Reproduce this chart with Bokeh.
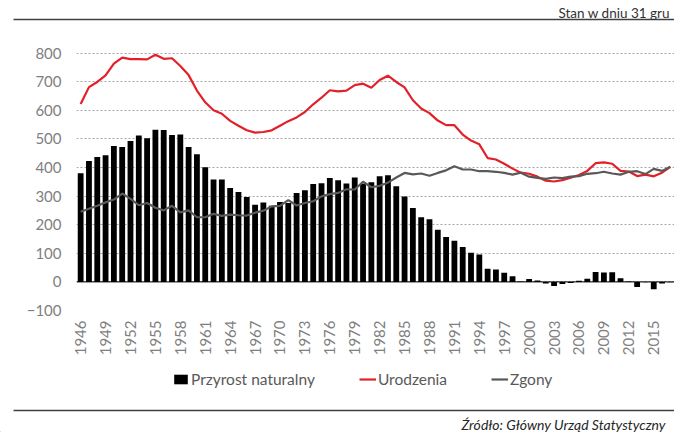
import math
from bokeh.plotting import figure
from bokeh.models import (Range1d, FixedTicker, Span, Legend, LegendItem,
                          ColumnDataSource, Label)
from bokeh.layouts import column
from bokeh.embed import file_html
from bokeh.resources import INLINE

# ---------------- data (thousands) ----------------
years = list(range(1946, 2018))
births = [622, 681, 699, 722, 763, 784, 779, 779, 778, 794,
          780, 782, 755, 723, 669, 628, 600, 588, 563, 546,
          530, 522, 524, 530, 546, 562, 575, 594, 621, 644,
          670, 666, 669, 688, 693, 679, 706, 721, 699, 680,
          635, 606, 590, 564, 548, 548, 515, 494, 481, 433,
          428, 413, 396, 382, 378, 368, 354, 351, 356, 364,
          374, 388, 415, 418, 413, 388, 386, 370, 375, 369,
          382, 402]
deaths = [245, 256, 266, 278, 288, 309, 290, 268, 276, 259,
          250, 266, 243, 250, 226, 226, 238, 231, 235, 233,
          232, 242, 249, 264, 266, 286, 267, 276, 282, 299,
          307, 311, 324, 323, 350, 331, 336, 347, 365, 381,
          376, 379, 371, 381, 390, 404, 393, 393, 387, 387,
          385, 381, 375, 382, 368, 364, 360, 365, 363, 368,
          370, 378, 380, 385, 379, 375, 385, 387, 377, 395,
          388, 403]
increase = [380, 423, 437, 443, 475, 472, 493, 512, 502, 532,
            531, 514, 515, 472, 446, 401, 358, 358, 328, 314,
            297, 270, 278, 266, 279, 276, 311, 320, 342, 345,
            363, 355, 344, 365, 343, 348, 369, 373, 334, 299,
            258, 226, 219, 182, 157, 144, 122, 102, 96, 46,
            43, 32, 20, 1, 10, 5, -6, -14, -7, -4,
            4, 11, 35, 33, 34, 13, 1, -18, -1, -26,
            -6, -1]
tick_years = list(range(1946, 2016, 3))
tick_labels = [str(y) for y in tick_years]
y_ticks = list(range(-100, 900, 100))
series_names = ["Przyrost naturalny", "Urodzenia", "Zgony"]
header_text = "Stan w dniu 31 gru"
source_text = "Źródło: Główny Urząd Statystyczny"

FONT = "Lato"
RED = "#E2202A"
GRAY = "#595959"
W = 674


def strip(h):
    f = figure(width=W, height=h, x_range=Range1d(0, W), y_range=Range1d(0, h),
               output_backend="svg", toolbar_location=None, min_border=0,
               frame_align=False)
    f.axis.visible = False
    f.grid.visible = False
    f.outline_line_color = None
    return f


# ---------------- top strip (0..26) ----------------
top = strip(26)
top.segment(x0=[13], y0=[7], x1=[W], y1=[7], line_color="#404040", line_width=1.5)
top.add_layout(Label(x=558, y=13.5, text=header_text, text_font=FONT,
                     text_font_size="13.5px", text_color="#333333",
                     text_baseline="alphabetic"))

# ---------------- main chart (26..358) ----------------
src = ColumnDataSource(dict(year=years, births=births, deaths=deaths, inc=increase))

p = figure(width=W, height=332, x_range=Range1d(1945.5, 2017.5),
           y_range=Range1d(-100, 830), output_backend="svg",
           toolbar_location=None, min_border_left=76, min_border_right=0,
           min_border_top=18, min_border_bottom=46, frame_align=False)
p.outline_line_color = None
p.xgrid.visible = False
p.ygrid.ticker = FixedTicker(ticks=y_ticks)
p.ygrid.grid_line_color = "#a6a6a6"
p.ygrid.grid_line_dash = "2 2"
p.ygrid.grid_line_width = 1

bars = p.vbar(x="year", top="inc", width=0.7, fill_color="black",
              line_color=None, source=src)
p.add_layout(Span(location=0, dimension="width", line_color="black", line_width=1))
red = p.line("year", "births", line_color=RED, line_width=2.2, source=src)
gray = p.line("year", "deaths", line_color=GRAY, line_width=2.2, source=src)

p.yaxis.ticker = FixedTicker(ticks=y_ticks)
p.xaxis.ticker = FixedTicker(ticks=tick_years)
p.xaxis.major_label_overrides = {y: s for y, s in zip(tick_years, tick_labels)}
p.xaxis.major_label_orientation = math.pi / 2
for ax in (p.xaxis, p.yaxis):
    ax.axis_line_color = None
    ax.major_tick_line_color = None
    ax.minor_tick_line_color = None
    ax.major_tick_out = 0
    ax.major_tick_in = 0
    ax.major_label_text_font = FONT
    ax.major_label_text_font_size = "15px"
    ax.major_label_text_color = "#7f7f7f"
p.xaxis.major_label_standoff = 10
p.yaxis.major_label_standoff = 15

# ---------------- legend + source strip (358..432) ----------------
bot = strip(74)
# legend swatches (placed off-screen, used only by the legend)
lb = bot.vbar(x=[-500], top=[1], width=1, fill_color="black", line_color=None)
lr = bot.line(x=[-500, -499], y=[0, 0], line_color=RED, line_width=2.2)
lg = bot.line(x=[-500, -499], y=[0, 0], line_color=GRAY, line_width=2.2)
legend = Legend(items=[LegendItem(label=series_names[0], renderers=[lb]),
                       LegendItem(label=series_names[1], renderers=[lr]),
                       LegendItem(label=series_names[2], renderers=[lg])],
                orientation="horizontal", location=(172, 44),
                glyph_width=17, glyph_height=12, label_standoff=2,
                spacing=44, padding=0, margin=0,
                border_line_color=None, background_fill_alpha=0,
                label_text_font=FONT, label_text_font_size="15.5px",
                label_text_color="#595959")
bot.add_layout(legend, "center")
bot.segment(x0=[13], y0=[22], x1=[W], y1=[22], line_color="#404040", line_width=1.5)
bot.add_layout(Label(x=461, y=8, text=source_text, text_font=FONT,
                     text_font_size="14px", text_font_style="italic",
                     text_color="#262626", text_baseline="alphabetic"))

layout = column(top, p, bot, spacing=0)
open("out.html", "w").write(file_html(layout, INLINE))
